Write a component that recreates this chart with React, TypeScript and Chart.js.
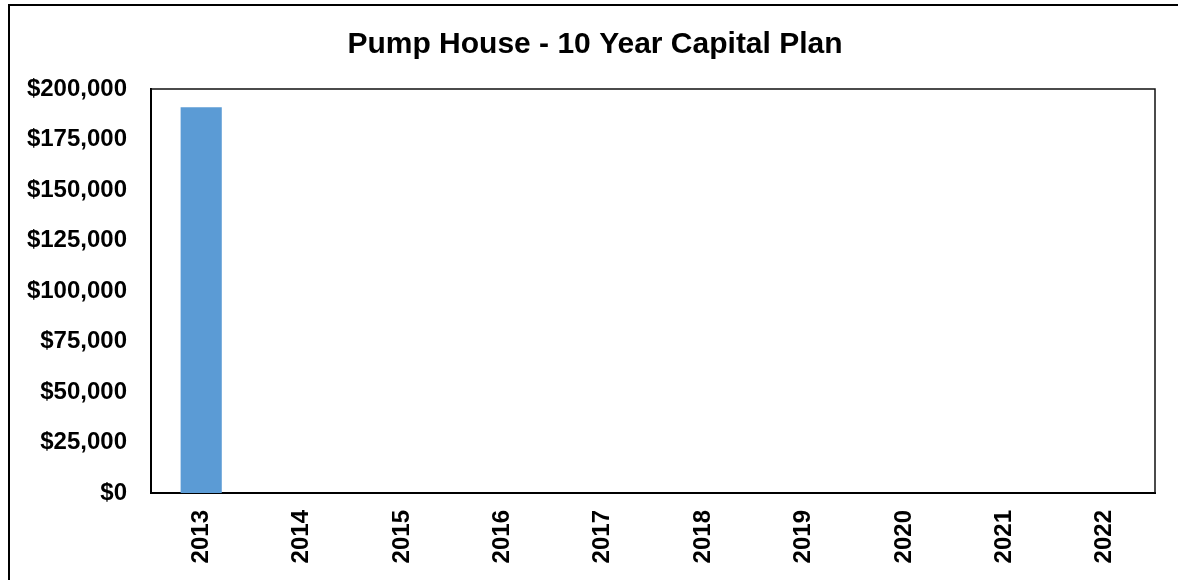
import React, { useEffect, useRef } from "react";
import { Chart, registerables } from "chart.js";

Chart.register(...registerables);

const title = "Pump House - 10 Year Capital Plan";
const years = ["2013", "2014", "2015", "2016", "2017", "2018", "2019", "2020", "2021", "2022"];
const capitalCost = [191000, 0, 0, 0, 0, 0, 0, 0, 0, 0];
const yMin = 0;
const yMax = 200000;
const yStep = 25000;

const FONT = "'Liberation Sans', Arial, Helvetica, sans-serif";

export default function App() {
  const ref = useRef<HTMLCanvasElement | null>(null);

  useEffect(() => {
    const canvas = ref.current;
    if (!canvas) return;

    const decor = {
      id: "decor",
      afterDraw(chart: any) {
        const { ctx, chartArea } = chart;
        ctx.save();
        ctx.strokeStyle = "#111";
        ctx.lineWidth = 1.5;
        ctx.beginPath();
        ctx.moveTo(chartArea.left, chartArea.top);
        ctx.lineTo(chartArea.right, chartArea.top);
        ctx.lineTo(chartArea.right, chartArea.bottom);
        ctx.stroke();
        ctx.fillStyle = "#000";
        ctx.font = `bold 30px ${FONT}`;
        ctx.textAlign = "center";
        ctx.textBaseline = "alphabetic";
        ctx.fillText(title, 595, 53);
        ctx.restore();
      },
    };

    const chart = new Chart(canvas, {
      type: "bar",
      data: {
        labels: years,
        datasets: [
          {
            data: capitalCost,
            backgroundColor: "#5B9BD5",
            borderWidth: 0,
            barPercentage: 0.41,
            categoryPercentage: 1.0,
          },
        ],
      },
      options: {
        responsive: false,
        animation: false,
        devicePixelRatio: 1,
        layout: { padding: { top: 89, right: 23, bottom: 0, left: 0 } },
        plugins: {
          legend: { display: false },
          title: { display: false },
          tooltip: { enabled: false },
        },
        scales: {
          x: {
            grid: { display: false, drawTicks: false },
            border: { display: true, color: "#000", width: 2 },
            ticks: {
              color: "#000",
              font: { family: FONT, size: 24, weight: "bold" },
              maxRotation: 90,
              minRotation: 90,
              padding: 17,
              autoSkip: false,
            },
            afterFit: (scale: any) => {
              scale.height = 87;
            },
          },
          y: {
            min: yMin,
            max: yMax,
            grid: { display: false, drawTicks: false },
            border: { display: true, color: "#000", width: 2 },
            ticks: {
              stepSize: yStep,
              color: "#000",
              padding: 24,
              font: { family: FONT, size: 24, weight: "bold" },
              callback: (v: any) => "$" + Number(v).toLocaleString("en-US"),
            },
            afterFit: (scale: any) => {
              scale.width = 151;
            },
          },
        },
      },
      plugins: [decor],
    });

    return () => chart.destroy();
  }, []);

  return (
    <div
      style={{
        position: "fixed",
        left: 0,
        top: 0,
        width: 1178,
        height: 580,
        overflow: "hidden",
        background: "#fff",
      }}
    >
      <div
        style={{
          position: "absolute",
          left: 8,
          top: 4,
          width: 1200,
          height: 620,
          border: "2px solid #000",
          boxSizing: "border-box",
        }}
      />
      <canvas
        ref={ref}
        width={1178}
        height={580}
        style={{ position: "absolute", left: 0, top: 0, width: 1178, height: 580 }}
      />
    </div>
  );
}
